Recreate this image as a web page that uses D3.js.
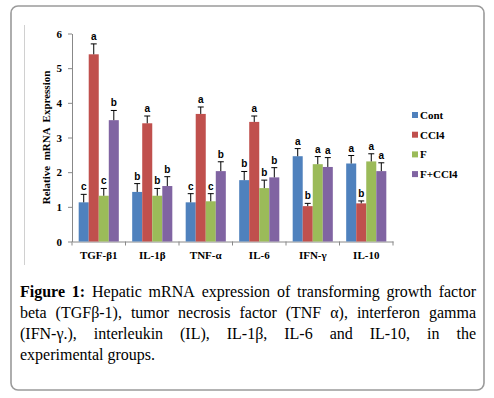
<!DOCTYPE html>
<html>
<head>
<meta charset="utf-8">
<script src="https://cdn.jsdelivr.net/npm/d3@7"></script>
<style>
  html, body { margin: 0; padding: 0; background: #fff; }
  svg { display: block; }
</style>
</head>
<body>
<svg id="chart" width="494" height="398"></svg>
<script>
// ---- data ----
const categories = ["TGF-β1", "IL-1β", "TNF-α", "IL-6", "IFN-γ", "IL-10"];
const seriesNames = ["Cont", "CCl4", "F", "F+CCl4"];
const seriesColors = ["#4F81BD", "#C0504D", "#9BBB59", "#8064A2"];
const contValues  = [1.13, 1.43, 1.13, 1.77, 2.46, 2.25];
const ccl4Values  = [5.40, 3.41, 3.68, 3.45, 1.02, 1.10];
const fValues     = [1.32, 1.32, 1.16, 1.54, 2.23, 2.31];
const fccl4Values = [3.50, 1.60, 2.03, 1.85, 2.15, 2.03];
const contErr  = [0.23, 0.24, 0.25, 0.25, 0.22, 0.23];
const ccl4Err  = [0.30, 0.21, 0.20, 0.17, 0.08, 0.07];
const fErr     = [0.21, 0.21, 0.22, 0.23, 0.22, 0.22];
const fccl4Err = [0.28, 0.27, 0.27, 0.28, 0.27, 0.24];
const contLetters  = ["c", "b", "c", "b", "a", "a"];
const ccl4Letters  = ["a", "a", "a", "a", "b", "b"];
const fLetters     = ["c", "b", "c", "b", "a", "a"];
const fccl4Letters = ["b", "b", "b", "b", "a", "a"];
const yTicks = [0, 1, 2, 3, 4, 5, 6];
const yTitle = "Relative  mRNA  Expression";
const captionLines = [
  "Figure 1: Hepatic mRNA expression of transforming growth factor",
  "beta (TGFβ-1), tumor necrosis factor (TNF α), interferon gamma",
  "(IFN-γ.), interleukin (IL), IL-1β, IL-6 and IL-10, in the",
  "experimental groups."
];

const valuesBySeries = [contValues, ccl4Values, fValues, fccl4Values];
const errBySeries = [contErr, ccl4Err, fErr, fccl4Err];
const lettersBySeries = [contLetters, ccl4Letters, fLetters, fccl4Letters];

const svg = d3.select("#chart");

// outer rounded frame
svg.append("rect")
  .attr("x", 11).attr("y", 6).attr("width", 473).attr("height", 384)
  .attr("rx", 7).attr("ry", 7)
  .attr("fill", "none").attr("stroke", "#9a9a9a").attr("stroke-width", 1.6);

// chart area left border (light)
svg.append("line")
  .attr("x1", 24.5).attr("x2", 24.5).attr("y1", 25).attr("y2", 265)
  .attr("stroke", "#d0d0d0").attr("stroke-width", 1);

// scales
const x0 = d3.scaleBand().domain(categories).range([72, 393])
  .paddingInner(0.25).paddingOuter(0.125);
const x1 = d3.scaleBand().domain(seriesNames).range([0, x0.bandwidth()]);
const y = d3.scaleLinear().domain([0, 6]).range([241.5, 33.5]);

const serif = "'Liberation Serif', 'Times New Roman', serif";
const sans = "'Liberation Sans', Arial, sans-serif";

// y axis
const yAxis = svg.append("g").attr("transform", "translate(72,0)")
  .call(d3.axisLeft(y).tickValues(yTicks).tickFormat(d3.format("d"))
    .tickSizeInner(4).tickSizeOuter(0).tickPadding(6));
yAxis.select(".domain").attr("stroke", "#888");
yAxis.selectAll(".tick line").attr("stroke", "#888");
yAxis.selectAll(".tick text").attr("font-family", serif).attr("font-weight", "bold")
  .attr("font-size", 11).attr("fill", "#000");

// x axis
const xAxis = svg.append("g").attr("transform", `translate(0,${y(0)})`)
  .call(d3.axisBottom(x0).tickSize(0).tickPadding(10));
xAxis.select(".domain").attr("stroke", "#888");
xAxis.selectAll(".tick text").attr("font-family", serif).attr("font-weight", "bold")
  .attr("font-size", 11).attr("fill", "#000");
// category boundary ticks
const boundaries = categories.map(c => x0(c) - x0.step() * x0.paddingInner() / 2);
boundaries.push(x0(categories[categories.length - 1]) + x0.bandwidth() + x0.step() * x0.paddingInner() / 2);
svg.append("g").selectAll("line").data(boundaries).join("line")
  .attr("x1", d => d).attr("x2", d => d)
  .attr("y1", y(0)).attr("y2", y(0) + 4)
  .attr("stroke", "#888");

// y title
svg.append("text")
  .attr("transform", `translate(50,${(y(0) + y(6)) / 2}) rotate(-90)`)
  .attr("text-anchor", "middle")
  .attr("font-family", serif).attr("font-weight", "bold").attr("font-size", 11)
  .style("white-space", "pre")
  .text(yTitle);

// bars
const groups = svg.append("g").selectAll("g").data(categories).join("g")
  .attr("transform", c => `translate(${x0(c)},0)`);

groups.each(function(c, ci) {
  const g = d3.select(this);
  seriesNames.forEach((s, si) => {
    const v = valuesBySeries[si][ci];
    const e = errBySeries[si][ci];
    const bx = x1(s);
    const bw = x1.bandwidth();
    g.append("rect")
      .attr("x", bx).attr("y", y(v))
      .attr("width", bw).attr("height", y(0) - y(v))
      .attr("fill", seriesColors[si]);
    const cx = bx + bw / 2;
    g.append("line")
      .attr("x1", cx).attr("x2", cx).attr("y1", y(v)).attr("y2", y(v + e))
      .attr("stroke", "#000").attr("stroke-width", 1);
    g.append("line")
      .attr("x1", cx - 3).attr("x2", cx + 3).attr("y1", y(v + e)).attr("y2", y(v + e))
      .attr("stroke", "#000").attr("stroke-width", 1);
    g.append("text")
      .attr("x", cx).attr("y", y(v + e) - 4)
      .attr("text-anchor", "middle")
      .attr("font-family", sans).attr("font-weight", "bold").attr("font-size", 10)
      .text(lettersBySeries[si][ci]);
  });
});

// legend
const legend = svg.append("g").attr("transform", "translate(412,115)");
seriesNames.forEach((s, i) => {
  const row = legend.append("g").attr("transform", `translate(0,${i * 19.7})`);
  row.append("rect").attr("x", 0).attr("y", -3).attr("width", 6).attr("height", 6)
    .attr("fill", seriesColors[i]);
  row.append("text").attr("x", 8).attr("y", 4)
    .attr("font-family", serif).attr("font-weight", "bold").attr("font-size", 11)
    .text(s);
});

// caption (justified)
const capLeft = 20, capRight = 476, capTop = 297, capLH = 21;
const capFont = 16;
captionLines.forEach((line, li) => {
  const words = line.split(" ");
  const nodes = words.map((w, wi) => {
    const t = svg.append("text")
      .attr("y", capTop + li * capLH)
      .attr("font-family", serif).attr("font-size", capFont)
      .attr("font-weight", (li === 0 && wi < 2) ? "bold" : "normal")
      .attr("fill", "#000")
      .text(w);
    return t;
  });
  const widths = nodes.map(n => n.node().getComputedTextLength());
  const total = d3.sum(widths);
  const justify = li < captionLines.length - 1;
  const gap = justify ? (capRight - capLeft - total) / (words.length - 1) : capFont * 0.25;
  let xpos = capLeft;
  nodes.forEach((n, i) => { n.attr("x", xpos); xpos += widths[i] + gap; });
});
</script>
</body>
</html>
